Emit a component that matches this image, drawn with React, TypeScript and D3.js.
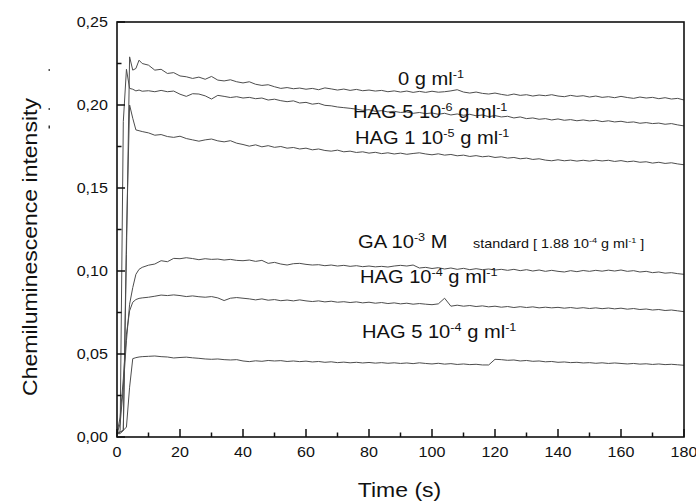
import React from "react";
import * as d3 from "d3";

const time = [0,1,2,3,4,5,6,7,8,
  10,12,14,16,18,20,22,24,26,28,
  30,32,34,36,38,40,42,44,46,48,
  50,52,54,56,58,60,62,64,66,68,
  70,72,74,76,78,80,82,84,86,88,
  90,92,94,96,98,100,102,104,106,108,
  110,112,114,116,118,120,122,124,126,128,
  130,132,134,136,138,140,142,144,146,148,
  150,152,154,156,158,160,162,164,166,168,
  170,172,174,176,178,180];

const zeroGml = [0.002,0.003,0.004,0.110,0.229,0.221,0.222,0.227,0.225,
  0.2240,0.2210,0.2215,0.2190,0.2195,0.2175,0.2170,0.2160,0.2168,0.2155,
  0.2172,0.2150,0.2145,0.2152,0.2140,0.2133,0.2140,0.2125,0.2118,0.2122,
  0.2110,0.2100,0.2105,0.2098,0.2102,0.2095,0.2100,0.2092,0.2103,0.2097,
  0.2090,0.2096,0.2088,0.2094,0.2086,0.2090,0.2084,0.2088,0.2080,0.2085,
  0.2078,0.2084,0.2076,0.2082,0.2076,0.2083,0.2077,0.2080,0.2085,0.2092,
  0.2078,0.2072,0.2078,0.2070,0.2066,0.2072,0.2064,0.2058,0.2066,0.2058,
  0.2062,0.2054,0.2060,0.2056,0.2062,0.2054,0.2050,0.2058,0.2052,0.2056,
  0.2048,0.2054,0.2046,0.2050,0.2044,0.2052,0.2045,0.2040,0.2048,0.2042,
  0.2046,0.2038,0.2044,0.2036,0.2040,0.2030];

const hag5e6 = [0.002,0.004,0.190,0.2215,0.2100,0.2095,0.2085,0.2090,0.2083,
  0.2086,0.2080,0.2088,0.2080,0.2084,0.2065,0.2052,0.2068,0.2066,0.2055,
  0.2036,0.2058,0.2052,0.2045,0.2050,0.2042,0.2046,0.2038,0.2042,0.2030,
  0.2035,0.2026,0.2020,0.2025,0.2012,0.2016,0.2005,0.2010,0.1998,0.1995,
  0.1988,0.1984,0.1980,0.1975,0.1968,0.1972,0.1962,0.1966,0.1958,0.1962,
  0.1955,0.1958,0.1950,0.1955,0.1948,0.1952,0.1944,0.1950,0.1940,0.1946,
  0.1938,0.1944,0.1935,0.1940,0.1930,0.1936,0.1928,0.1932,0.1922,0.1928,
  0.1918,0.1922,0.1914,0.1918,0.1910,0.1916,0.1908,0.1912,0.1905,0.1910,
  0.1904,0.1908,0.1900,0.1905,0.1898,0.1902,0.1895,0.1898,0.1890,0.1894,
  0.1888,0.1891,0.1884,0.1888,0.1880,0.1874];

const hag1e5 = [0.002,0.002,0.004,0.120,0.2000,0.1920,0.1850,0.1845,0.1840,
  0.1832,0.1818,0.1822,0.1810,0.1805,0.1812,0.1798,0.1790,0.1782,0.1790,
  0.1795,0.1784,0.1778,0.1785,0.1770,0.1762,0.1752,0.1760,0.1748,0.1755,
  0.1745,0.1750,0.1740,0.1744,0.1735,0.1740,0.1730,0.1735,0.1726,0.1722,
  0.1728,0.1718,0.1722,0.1714,0.1718,0.1710,0.1715,0.1707,0.1712,0.1705,
  0.1710,0.1703,0.1708,0.1712,0.1705,0.1700,0.1706,0.1698,0.1702,0.1694,
  0.1698,0.1690,0.1695,0.1688,0.1692,0.1684,0.1688,0.1680,0.1684,0.1676,
  0.1680,0.1672,0.1676,0.1668,0.1664,0.1670,0.1664,0.1668,0.1662,0.1667,
  0.1662,0.1668,0.1663,0.1667,0.1660,0.1665,0.1658,0.1662,0.1655,0.1658,
  0.1650,0.1655,0.1648,0.1652,0.1645,0.1640];

const ga1e3 = [0.002,0.008,0.030,0.058,0.080,0.090,0.098,0.1010,0.1022,
  0.1035,0.1042,0.1062,0.1056,0.1076,0.1074,0.1080,0.1075,0.1068,0.1074,
  0.1070,0.1072,0.1066,0.1070,0.1064,0.1062,0.1066,0.1058,0.1064,0.1046,
  0.1052,0.1042,0.1036,0.1044,0.1046,0.1040,0.1036,0.1038,0.1032,0.1036,
  0.1030,0.1034,0.1028,0.1032,0.1026,0.1030,0.1025,0.1028,0.1024,0.1030,
  0.1034,0.1030,0.1036,0.1018,0.1022,0.1015,0.1020,0.1012,0.1018,0.1010,
  0.1016,0.1008,0.1014,0.1008,0.1012,0.1006,0.1010,0.1004,0.1010,0.1002,
  0.1008,0.1000,0.1006,0.0998,0.1004,0.0998,0.0994,0.1002,0.0996,0.1003,
  0.0998,0.1004,0.0999,0.1005,0.1000,0.1006,0.0998,0.1002,0.0994,0.0998,
  0.0990,0.0994,0.0987,0.0990,0.0984,0.0980];

const hag1e4 = [0.002,0.012,0.035,0.062,0.0760,0.0812,0.0828,0.0835,0.0838,
  0.0842,0.0848,0.0855,0.0852,0.0856,0.0852,0.0846,0.0850,0.0845,0.0842,
  0.0846,0.0838,0.0822,0.0836,0.0840,0.0836,0.0832,0.0826,0.0832,0.0824,
  0.0828,0.0821,0.0825,0.0820,0.0826,0.0820,0.0816,0.0820,0.0814,0.0818,
  0.0812,0.0815,0.0810,0.0814,0.0808,0.0812,0.0806,0.0810,0.0804,0.0808,
  0.0802,0.0806,0.0800,0.0804,0.0800,0.0797,0.0802,0.0836,0.0788,0.0794,
  0.0788,0.0792,0.0786,0.0790,0.0784,0.0788,0.0782,0.0786,0.0780,0.0785,
  0.0780,0.0784,0.0778,0.0782,0.0778,0.0781,0.0776,0.0780,0.0775,0.0779,
  0.0774,0.0778,0.0773,0.0777,0.0772,0.0776,0.0770,0.0774,0.0768,0.0771,
  0.0765,0.0768,0.0762,0.0765,0.0760,0.0755];

const hag5e4 = [0.002,0.003,0.004,0.006,0.030,0.0472,0.0478,0.0482,0.0484,
  0.0486,0.0488,0.0484,0.0482,0.0476,0.0479,0.0481,0.0477,0.0474,0.0470,
  0.0468,0.0470,0.0466,0.0464,0.0466,0.0458,0.0454,0.0459,0.0456,0.0461,
  0.0458,0.0460,0.0455,0.0458,0.0454,0.0457,0.0452,0.0455,0.0450,0.0453,
  0.0448,0.0451,0.0447,0.0450,0.0446,0.0449,0.0445,0.0448,0.0444,0.0447,
  0.0443,0.0446,0.0442,0.0447,0.0443,0.0440,0.0444,0.0439,0.0442,0.0437,
  0.0440,0.0436,0.0438,0.0434,0.0434,0.0468,0.0466,0.0462,0.0464,0.0458,
  0.0461,0.0456,0.0458,0.0453,0.0455,0.0450,0.0452,0.0448,0.0450,0.0446,
  0.0448,0.0444,0.0447,0.0443,0.0446,0.0443,0.0440,0.0443,0.0439,0.0441,
  0.0437,0.0440,0.0436,0.0438,0.0435,0.0432];

const xTicks = [0,20,40,60,80,100,120,140,160,180];
const xMinorTicks = [10,30,50,70,90,110,130,150,170];
const yTicks = [0,0.05,0.1,0.15,0.2,0.25];
const yMinorTicks = [0.025,0.075,0.125,0.175,0.225];

const FONT = "'Liberation Sans', Arial, Helvetica, sans-serif";
const SX = 1.15;

type Part = { t: string; sup?: boolean };

function Label({ x, y, size, parts, supSize }: { x: number; y: number; size: number; parts: Part[]; supSize: number }) {
  const rise = size * 0.42;
  let cur = 0;
  return (
    <g transform={`translate(${x},${y}) scale(${SX},1)`}>
      <text fontFamily={FONT} fontSize={size} fill="#111" xmlSpace="preserve" style={{ whiteSpace: "pre" }}>
        {parts.map((p, i) => {
          const target = p.sup ? -rise : 0;
          const dy = target - cur;
          cur = target;
          return (
            <tspan key={i} dy={dy} fontSize={p.sup ? supSize : size}>
              {p.t}
            </tspan>
          );
        })}
      </text>
    </g>
  );
}

export default function App() {
  const W = 696, H = 503;
  const x = d3.scaleLinear().domain([0, 180]).range([117, 684]);
  const y = d3.scaleLinear().domain([0, 0.25]).range([437, 22]);
  const line = d3.line<number>().x((_, i) => x(time[i])).y((d) => y(d));
  const series = [zeroGml, hag5e6, hag1e5, ga1e3, hag1e4, hag5e4];
  const fmt = (v: number) => d3.format(".2f")(v).replace(".", ",");
  const [x0, x1] = x.range();
  const [y0, y1] = y.range();

  return (
    <svg width={W} height={H} style={{ position: "absolute", left: 0, top: 0, background: "#fff" }}>
      <rect width={W} height={H} fill="#fff" />
      {series.map((s, i) => (
        <path key={i} d={line(s) || ""} fill="none" stroke="#4d4d4d" strokeWidth={1} />
      ))}
      {/* frame */}
      <rect x={x0} y={y1} width={x1 - x0} height={y0 - y1} fill="none" stroke="#111" strokeWidth={1.6} />
      {/* ticks */}
      {xTicks.map((t) => (
        <line key={"xt" + t} x1={x(t)} x2={x(t)} y1={y0} y2={y0 - 8} stroke="#111" strokeWidth={1.5} />
      ))}
      {xMinorTicks.map((t) => (
        <line key={"xm" + t} x1={x(t)} x2={x(t)} y1={y0} y2={y0 - 4.5} stroke="#111" strokeWidth={1.5} />
      ))}
      {yTicks.map((t) => (
        <line key={"yt" + t} x1={x0} x2={x0 + 8} y1={y(t)} y2={y(t)} stroke="#111" strokeWidth={1.5} />
      ))}
      {yMinorTicks.map((t) => (
        <line key={"ym" + t} x1={x0} x2={x0 + 4.5} y1={y(t)} y2={y(t)} stroke="#111" strokeWidth={1.5} />
      ))}
      {/* tick labels */}
      {xTicks.map((t) => (
        <g key={"xl" + t} transform={`translate(${x(t)},${y0 + 20}) scale(${SX},1)`}>
          <text textAnchor="middle" fontFamily={FONT} fontSize={14} fill="#111">{t}</text>
        </g>
      ))}
      {yTicks.map((t) => (
        <g key={"yl" + t} transform={`translate(${x0 - 9},${y(t) + 5}) scale(${SX},1)`}>
          <text textAnchor="end" fontFamily={FONT} fontSize={14} fill="#111">{fmt(t)}</text>
        </g>
      ))}
      {/* axis titles */}
      <g transform={`translate(${(x0 + x1) / 2 - 1},497) scale(${SX},1)`}>
        <text textAnchor="middle" fontFamily={FONT} fontSize={20} fill="#111">Time (s)</text>
      </g>
      <g transform={`translate(37,247) rotate(-90) scale(${SX},1)`}>
        <text textAnchor="middle" fontFamily={FONT} fontSize={20} fill="#111">Chemiluminescence intensity</text>
      </g>
      {/* stray marks */}
      <rect x={48.5} y={69} width={1.5} height={2} fill="#555" />
      <rect x={48.5} y={108} width={1.5} height={2} fill="#555" />
      <rect x={48.5} y={125.5} width={1.5} height={3} fill="#333" />
      {/* curve labels */}
      <Label x={398} y={85} size={17.5} supSize={11} parts={[{ t: "0 g ml" }, { t: "-1", sup: true }]} />
      <Label x={353} y={118} size={17.5} supSize={11} parts={[{ t: "HAG 5 10" }, { t: "-6", sup: true }, { t: " g ml" }, { t: "-1", sup: true }]} />
      <Label x={355} y={144} size={17.5} supSize={11} parts={[{ t: "HAG 1 10" }, { t: "-5", sup: true }, { t: " g ml" }, { t: "-1", sup: true }]} />
      <Label x={358} y={248} size={17.5} supSize={11} parts={[{ t: "GA 10" }, { t: "-3", sup: true }, { t: " M" }]} />
      <Label x={473} y={248} size={12.5} supSize={8} parts={[{ t: "standard [ 1.88 10" }, { t: "-4", sup: true }, { t: " g ml" }, { t: "-1", sup: true }, { t: " ]" }]} />
      <Label x={360} y={283} size={17.5} supSize={11} parts={[{ t: "HAG 10" }, { t: "-4", sup: true }, { t: " g ml" }, { t: "-1", sup: true }]} />
      <Label x={362} y={338} size={17.5} supSize={11} parts={[{ t: "HAG 5 10" }, { t: "-4", sup: true }, { t: " g ml" }, { t: "-1", sup: true }]} />
    </svg>
  );
}
